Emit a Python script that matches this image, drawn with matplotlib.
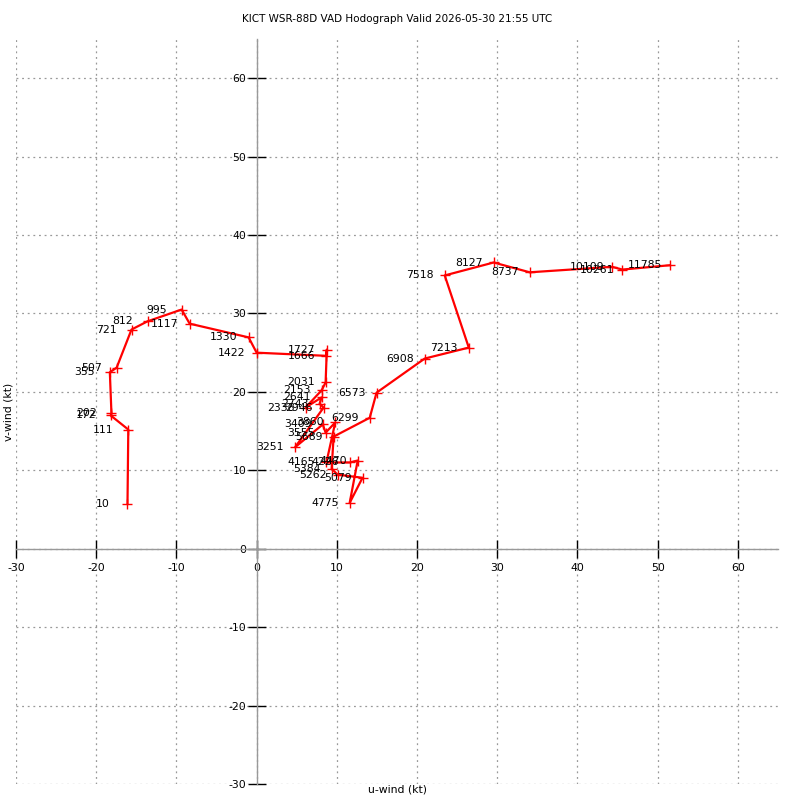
import matplotlib
matplotlib.use("Agg")
import matplotlib.pyplot as plt

# Heights (m AGL) used as point labels
heights = [10, 111, 172, 202, 355, 507, 721, 812, 995, 1117, 1330, 1422,
           1666, 1727, 2031, 2153, 2336, 2641, 2743, 2946, 3251, 3409,
           3555, 3860, 4165, 4226, 4470, 4775, 5079, 5262, 5384, 5689,
           6299, 6573, 6908, 7213, 7518, 8127, 8737, 10109, 10261, 11785]
# u-wind (kt)
u_wind = [-16.1, -16.0, -18.2, -18.1, -18.3, -17.45, -15.6, -13.6, -9.35,
          -8.35, -1.0, 0.0, 8.65, 8.75, 8.6, 8.1, 6.1, 8.1, 7.85, 8.35,
          4.8, 8.25, 8.6, 9.8, 8.7, 11.6, 12.6, 11.6, 13.2, 10.1, 9.35,
          9.6, 14.1, 14.95, 20.95, 26.45, 23.45, 29.55, 34.05, 44.3, 45.6,
          51.5]
# v-wind (kt)
v_wind = [5.75, 15.2, 17.0, 17.25, 22.5, 23.1, 27.95, 29.0, 30.5, 28.7,
          26.95, 25.0, 24.6, 25.4, 21.2, 20.2, 18.0, 19.3, 18.5, 18.0,
          12.95, 15.85, 14.8, 16.1, 11.0, 11.0, 11.25, 5.85, 9.05, 9.45,
          10.2, 14.3, 16.7, 19.9, 24.25, 25.65, 34.85, 36.5, 35.25, 35.95,
          35.6, 36.15]

ticks = list(range(-30, 61, 10))
title = "KICT WSR-88D VAD Hodograph Valid 2026-05-30 21:55 UTC"

plt.rcParams['font.family'] = ['DejaVu Sans']
plt.rcParams['axes.unicode_minus'] = False
fig = plt.figure(figsize=(8, 8), dpi=100)
ax = fig.add_axes([0.02, 0.02, 0.9525, 0.93125])

ax.set_xlim(-30, 65)
ax.set_ylim(-30, 65)

ax.plot(u_wind, v_wind, color='red', lw=1.6, marker='+', ms=6.5, mew=1.0,
        zorder=3)
for h, u, v in zip(heights, u_wind, v_wind):
    ax.text(u - 3.1, v, str(h), ha='center', va='center', fontsize=7.8,
            color='black', zorder=4)

ax.spines['left'].set_position(('data', 0))
ax.spines['bottom'].set_position(('data', 0))
ax.spines['top'].set_visible(False)
ax.spines['right'].set_visible(False)
for s in ('left', 'bottom'):
    ax.spines[s].set_color('#999999')
    ax.spines[s].set_linewidth(1.0)

ax.set_xticks(ticks)
ax.set_yticks(ticks)
ax.tick_params(axis='both', direction='inout', length=13, width=1.0,
               color='black', labelsize=7.8)
ax.tick_params(axis='x', pad=3.5)
ax.tick_params(axis='y', pad=0.8)
ax.grid(True, linestyle=(0, (1.5, 3)), color='#999999', linewidth=0.9)
ax.set_axisbelow(True)

ax.set_xlabel('u-wind (kt)', fontsize=7.8)
ax.set_ylabel('v-wind (kt)', fontsize=7.8)
ax.xaxis.set_label_coords(0.5, -0.001)
ax.yaxis.set_label_coords(-0.003, 0.5)

fig.text(0.496, 1 - 19 / 800, title, ha='center', va='center', fontsize=7.5)

fig.savefig('out.png', dpi=100)
